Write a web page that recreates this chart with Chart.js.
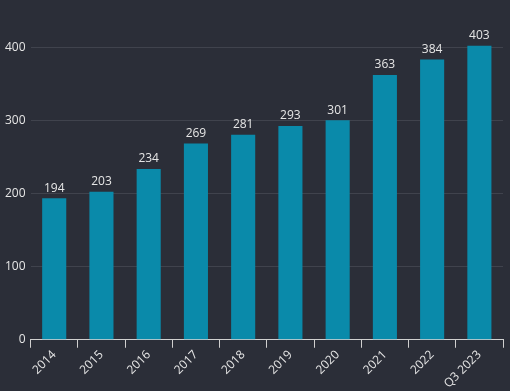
<!DOCTYPE html>
<html lang="en">
<head>
    <meta charset="UTF-8">
    <title>Bar chart</title>
    <script src="https://cdn.jsdelivr.net/npm/chart.js@4.4.0/dist/chart.umd.min.js"></script>
    <style>
        html, body {
            margin: 0;
            padding: 0;
            background: #2b2e38;
        }
        .wrap {
            width: 510px;
            height: 391px;
        }
    </style>
</head>
<body>
    <div class="wrap"><canvas id="chart"></canvas></div>

    <script>
        // data
        const labels = ['2014', '2015', '2016', '2017', '2018', '2019', '2020', '2021', '2022', 'Q3 2023'];
        const values = [194, 203, 234, 269, 281, 293, 301, 363, 384, 403];
        const yTicks = [0, 100, 200, 300, 400];

        const textColor = '#e6e6e6';
        const font = { family: 'Open Sans', size: 12 };

        // value labels above each bar
        const valueLabels = {
            id: 'valueLabels',
            afterDatasetsDraw(chart) {
                const ctx = chart.ctx;
                const meta = chart.getDatasetMeta(0);
                ctx.save();
                ctx.fillStyle = textColor;
                ctx.font = '12px "Open Sans"';
                ctx.textAlign = 'center';
                ctx.textBaseline = 'bottom';
                meta.data.forEach((bar, i) => {
                    ctx.fillText(values[i], bar.x, bar.y - 4);
                });
                ctx.restore();
            }
        };

        new Chart(document.getElementById('chart'), {
            type: 'bar',
            data: {
                labels: labels,
                datasets: [{
                    data: values,
                    backgroundColor: '#0a8aaa',
                    barPercentage: 0.51,
                    categoryPercentage: 1
                }]
            },
            options: {
                responsive: true,
                maintainAspectRatio: false,
                animation: false,
                layout: { padding: { top: 12, right: 7, left: 0, bottom: 0 } },
                plugins: {
                    legend: { display: false },
                    tooltip: { enabled: false }
                },
                scales: {
                    x: {
                        grid: {
                            drawOnChartArea: false,
                            drawTicks: true,
                            tickLength: 8,
                            color: '#d0d0d0',
                            offset: true
                        },
                        border: { color: '#d0d0d0' },
                        ticks: {
                            color: textColor,
                            font: font,
                            minRotation: 45,
                            maxRotation: 45,
                            padding: 0
                        }
                    },
                    y: {
                        min: 0,
                        max: 449,
                        afterBuildTicks(scale) {
                            scale.ticks = yTicks.map(v => ({ value: v }));
                        },
                        grid: {
                            color: '#40434d',
                            drawTicks: false
                        },
                        border: { display: false },
                        ticks: {
                            color: textColor,
                            font: font,
                            padding: 5
                        }
                    }
                }
            },
            plugins: [valueLabels]
        });
    </script>
</body>
</html>
